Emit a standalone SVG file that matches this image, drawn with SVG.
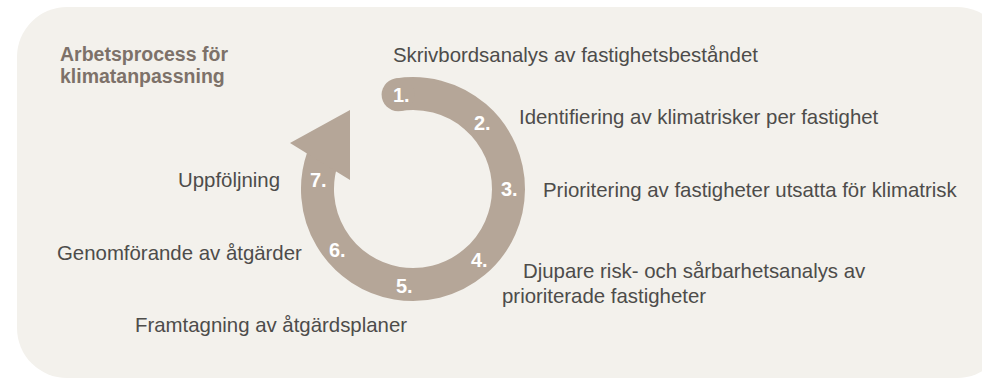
<svg xmlns="http://www.w3.org/2000/svg" width="982" height="379" viewBox="0 0 982 379">
  <style>
    .lbl { font-family: "Liberation Sans", Arial, sans-serif; font-size: 20.4px; fill: #4d4c4a; }
    .num { font-family: "Liberation Sans", Arial, sans-serif; font-size: 20px; font-weight: bold; fill: #ffffff; }
    .title { font-family: "Liberation Sans", Arial, sans-serif; font-size: 19.5px; font-weight: bold; fill: #7d7169; }
  </style>
  <rect x="0" y="0" width="982" height="379" fill="#ffffff"/>
  <rect id="background" x="17" y="7" width="990" height="371" rx="50" ry="50" fill="#f3f1ec"/>
  <g id="title">
    <text class="title" x="60" y="61">Arbetsprocess för</text>
    <text class="title" x="60" y="83">klimatanpassning</text>
  </g>
  <g id="connectors">
    <path d="M 398.1 94.7 A 95.5 95.5 0 1 1 322.7 157.9" fill="none" stroke="#b5a698" stroke-width="33" stroke-linecap="butt"/>
    <circle cx="398.1" cy="94.7" r="16.5" fill="#b5a698"/>
    <polygon points="350,110 290,143 350,180" fill="#b5a698"/>
  </g>
  <g id="step1">
    <text class="num" x="393" y="102">1.</text>
    <text class="lbl" x="393" y="62">Skrivbordsanalys av fastighetsbeståndet</text>
  </g>
  <g id="step2">
    <text class="num" x="474" y="130">2.</text>
    <text class="lbl" x="519" y="124">Identifiering av klimatrisker per fastighet</text>
  </g>
  <g id="step3">
    <text class="num" x="501" y="196">3.</text>
    <text class="lbl" x="543" y="197">Prioritering av fastigheter utsatta för klimatrisk</text>
  </g>
  <g id="step4">
    <text class="num" x="471" y="267">4.</text>
    <text class="lbl" x="523" y="278">Djupare risk- och sårbarhetsanalys av</text>
    <text class="lbl" x="502" y="303">prioriterade fastigheter</text>
  </g>
  <g id="step5">
    <text class="num" x="396" y="293">5.</text>
    <text class="lbl" x="135" y="332">Framtagning av åtgärdsplaner</text>
  </g>
  <g id="step6">
    <text class="num" x="329" y="257">6.</text>
    <text class="lbl" x="57" y="260">Genomförande av åtgärder</text>
  </g>
  <g id="step7">
    <text class="num" x="310" y="187">7.</text>
    <text class="lbl" x="178" y="187">Uppföljning</text>
  </g>
</svg>
